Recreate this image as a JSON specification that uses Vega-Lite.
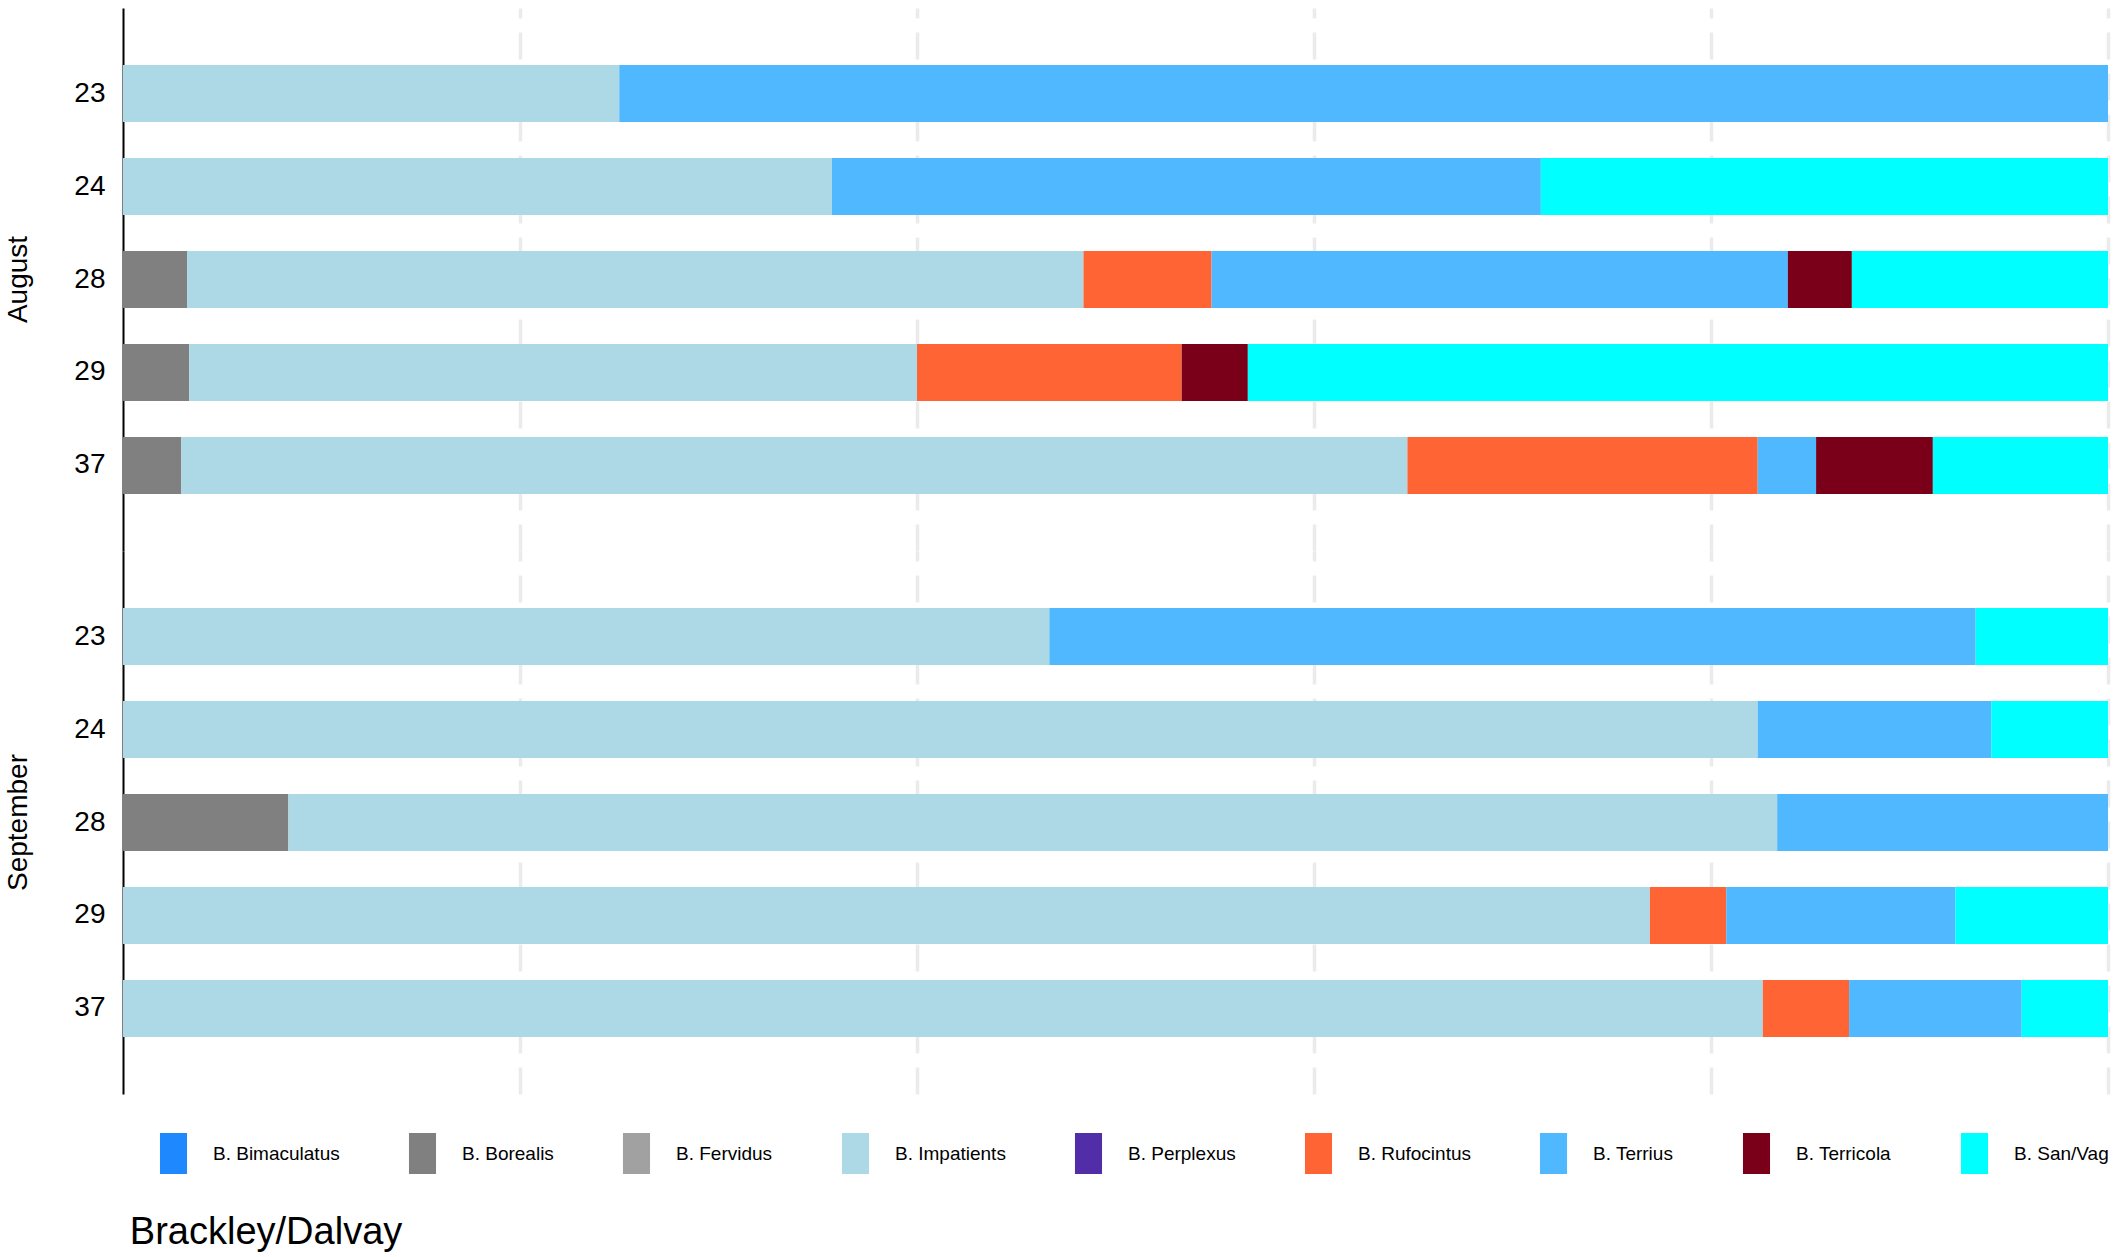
{
  "$schema": "https://vega.github.io/schema/vega-lite/v6.json",
  "padding": {"left": 4, "top": 8, "right": 11, "bottom": 5},
  "autosize": {"type": "pad"},
  "background": "white",
  "title": {"text": "Brackley/Dalvay", "orient": "bottom", "anchor": "start", "frame": "bounds", "fontSize": 38, "fontWeight": "normal", "color": "black", "font": "Liberation Sans", "offset": 40, "dx": 125},
  "data": {"values": [
    {"month": "August", "site": "23", "species": "B. Impatients", "count": 1},
    {"month": "August", "site": "23", "species": "B. Terrius", "count": 3},
    {"month": "August", "site": "24", "species": "B. Impatients", "count": 5},
    {"month": "August", "site": "24", "species": "B. Terrius", "count": 5},
    {"month": "August", "site": "24", "species": "B. San/Vag", "count": 4},
    {"month": "August", "site": "28", "species": "B. Borealis", "count": 1},
    {"month": "August", "site": "28", "species": "B. Impatients", "count": 14},
    {"month": "August", "site": "28", "species": "B. Rufocintus", "count": 2},
    {"month": "August", "site": "28", "species": "B. Terrius", "count": 9},
    {"month": "August", "site": "28", "species": "B. Terricola", "count": 1},
    {"month": "August", "site": "28", "species": "B. San/Vag", "count": 4},
    {"month": "August", "site": "29", "species": "B. Borealis", "count": 1},
    {"month": "August", "site": "29", "species": "B. Impatients", "count": 11},
    {"month": "August", "site": "29", "species": "B. Rufocintus", "count": 4},
    {"month": "August", "site": "29", "species": "B. Terricola", "count": 1},
    {"month": "August", "site": "29", "species": "B. San/Vag", "count": 13},
    {"month": "August", "site": "37", "species": "B. Borealis", "count": 1},
    {"month": "August", "site": "37", "species": "B. Impatients", "count": 21},
    {"month": "August", "site": "37", "species": "B. Rufocintus", "count": 6},
    {"month": "August", "site": "37", "species": "B. Terrius", "count": 1},
    {"month": "August", "site": "37", "species": "B. Terricola", "count": 2},
    {"month": "August", "site": "37", "species": "B. San/Vag", "count": 3},
    {"month": "September", "site": "23", "species": "B. Impatients", "count": 7},
    {"month": "September", "site": "23", "species": "B. Terrius", "count": 7},
    {"month": "September", "site": "23", "species": "B. San/Vag", "count": 1},
    {"month": "September", "site": "24", "species": "B. Impatients", "count": 14},
    {"month": "September", "site": "24", "species": "B. Terrius", "count": 2},
    {"month": "September", "site": "24", "species": "B. San/Vag", "count": 1},
    {"month": "September", "site": "28", "species": "B. Borealis", "count": 1},
    {"month": "September", "site": "28", "species": "B. Impatients", "count": 9},
    {"month": "September", "site": "28", "species": "B. Terrius", "count": 2},
    {"month": "September", "site": "29", "species": "B. Impatients", "count": 20},
    {"month": "September", "site": "29", "species": "B. Rufocintus", "count": 1},
    {"month": "September", "site": "29", "species": "B. Terrius", "count": 3},
    {"month": "September", "site": "29", "species": "B. San/Vag", "count": 2},
    {"month": "September", "site": "37", "species": "B. Impatients", "count": 19},
    {"month": "September", "site": "37", "species": "B. Rufocintus", "count": 1},
    {"month": "September", "site": "37", "species": "B. Terrius", "count": 2},
    {"month": "September", "site": "37", "species": "B. San/Vag", "count": 1}
  ]},
  "transform": [
    {"calculate": "indexof(['B. Bimaculatus','B. Borealis','B. Fervidus','B. Impatients','B. Perplexus','B. Rufocintus','B. Terrius','B. Terricola','B. San/Vag'], datum.species)", "as": "sp_order"}
  ],
  "facet": {
    "row": {
      "field": "month", "type": "nominal", "title": null,
      "header": {"labelOrient": "left", "labelAngle": -90, "labelFontSize": 28, "labelColor": "black", "labelFont": "Liberation Sans", "labelPadding": 27}
    }
  },
  "spacing": 0,
  "spec": {
    "width": 1985,
    "height": 543,
    "mark": {"type": "bar"},
    "encoding": {
      "y": {
        "field": "site", "type": "nominal", "title": null,
        "scale": {"paddingInner": 0.387, "paddingOuter": 0.613},
        "axis": {"ticks": false, "tickSize": 0, "labelPadding": 18, "labelFontSize": 28, "labelColor": "black", "labelFont": "Liberation Sans", "domainColor": "black", "domainWidth": 2, "grid": false, "zindex": 1}
      },
      "x": {
        "field": "count", "type": "quantitative", "stack": "normalize", "title": null,
        "scale": {"domain": [0, 1], "nice": false},
        "axis": {"labels": false, "ticks": false, "domain": false, "grid": true, "gridColor": "#EBEBEB", "gridWidth": 3.5, "gridDash": [27, 14], "values": [0.2, 0.4, 0.6, 0.8, 1.0]}
      },
      "color": {
        "field": "species", "type": "nominal",
        "scale": {
          "domain": ["B. Bimaculatus", "B. Borealis", "B. Fervidus", "B. Impatients", "B. Perplexus", "B. Rufocintus", "B. Terrius", "B. Terricola", "B. San/Vag"],
          "range": ["#1E88FF", "#808080", "#A1A1A1", "#ADD8E6", "#512DA8", "#FF6435", "#4FB8FF", "#7A0019", "#00FFFF"]
        },
        "legend": {
          "title": null, "orient": "none", "legendX": 30, "legendY": 1125, "direction": "horizontal",
          "symbolType": "M-0.66,-1h1.32v2h-1.32z", "symbolSize": 1681, "symbolStrokeWidth": 0, "symbolOpacity": 1,
          "labelFontSize": 19, "labelOffset": 19, "columnPadding": 62, "labelColor": "black", "labelFont": "Liberation Sans", "labelLimit": 400
        }
      },
      "order": {"field": "sp_order", "type": "quantitative"}
    }
  },
  "config": {"view": {"stroke": null}, "font": "Liberation Sans"}
}
